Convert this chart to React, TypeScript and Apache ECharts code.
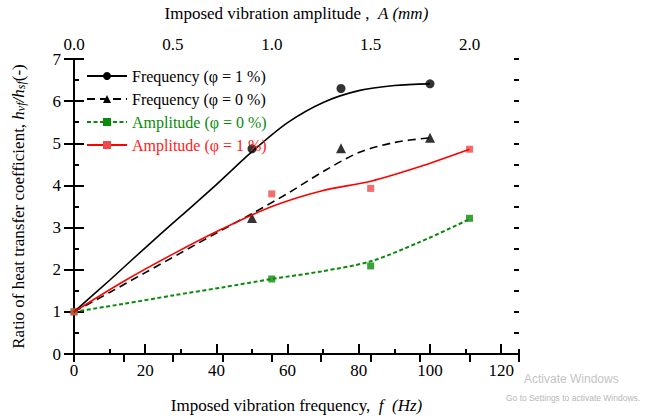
import React, { useEffect, useRef } from 'react';
import * as echarts from 'echarts';

const FONT = 'Liberation Serif';

// Fitted curves
const freqFitX = [0, 10, 20, 30, 40, 50, 60, 70, 80, 90, 100];
const freq1Fit = [1.0, 1.75, 2.52, 3.27, 4.02, 4.8, 5.49, 5.97, 6.25, 6.37, 6.41];
const freq0Fit = [1.0, 1.46, 1.93, 2.4, 2.87, 3.33, 3.81, 4.33, 4.78, 5.02, 5.13];
const ampFitX = [0, 0.25, 0.5, 0.75, 1.0, 1.25, 1.5, 1.75, 2.0];
const amp0Fit = [1.0, 1.19, 1.39, 1.58, 1.78, 1.96, 2.2, 2.66, 3.2];
const amp1Fit = [1.0, 1.72, 2.37, 2.97, 3.5, 3.87, 4.1, 4.45, 4.86];

// Measured points
const freqPtsX = [50, 75, 100];
const freq1Pts = [4.87, 6.3, 6.41];
const freq0Pts = [3.23, 4.88, 5.13];
const ampPtsX = [0, 1.0, 1.5, 2.0];
const amp0Pts = [1.0, 1.78, 2.09, 3.22];
const amp1Pts = [1.0, 3.8, 3.93, 4.86];

const legendNames = ['Frequency (φ = 1 %)', 'Frequency (φ = 0 %)', 'Amplitude (φ = 0 %)', 'Amplitude (φ = 1 %)'];
const legendColors = ['#000000', '#000000', '#0a8a0a', '#ff2020'];

const zip = (xs: number[], ys: number[]) => xs.map((x, i) => [x, ys[i]]);

const lineAxis = { show: true, lineStyle: { color: '#000', width: 2 } };
const tick = (len: number) => ({ show: true, inside: true, length: len, lineStyle: { color: '#000', width: 2 } });
const labelStyle = { color: '#000', fontFamily: FONT, fontSize: 17 };

export default function App() {
  const ref = useRef<HTMLDivElement>(null);
  useEffect(() => {
    if (!ref.current) return;
    const chart = echarts.init(ref.current, undefined, { renderer: 'svg' });
    const option: any = {
      animation: false,
      backgroundColor: '#fff',
      textStyle: { fontFamily: FONT },
      grid: { left: 74, right: 126, top: 56, bottom: 52, containLabel: false },
      legend: {
        orient: 'vertical',
        left: 81,
        top: 63,
        itemWidth: 40,
        itemHeight: 10,
        itemGap: 7,
        textStyle: { fontFamily: FONT, fontSize: 16, lineHeight: 16 },
        data: legendNames.map((n, i) => ({ name: n, textStyle: { color: legendColors[i], fontFamily: FONT, fontSize: 16 } })),
      },
      xAxis: [
        {
          type: 'value', position: 'bottom', min: 0, max: 125, interval: 20,
          axisLine: lineAxis, axisTick: tick(10), splitLine: { show: false },
          axisLabel: { ...labelStyle, margin: 8, showMaxLabel: false, formatter: (v: number) => (v > 120 ? '' : String(v)) },
          name: 'Imposed vibration frequency,  {i|f  (Hz)}', nameLocation: 'middle', nameGap: 43,
          nameTextStyle: { ...labelStyle, rich: { i: { fontFamily: FONT, fontSize: 17, fontStyle: 'italic', color: '#000' } } },
        },
        {
          type: 'value', position: 'bottom', min: 0, max: 125, interval: 10,
          axisLine: { show: false }, axisTick: tick(5), axisLabel: { show: false }, splitLine: { show: false },
        },
        {
          type: 'value', position: 'top', min: 0, max: 2.25, interval: 0.25,
          axisLine: lineAxis, axisTick: tick(8), splitLine: { show: false },
          axisLabel: {
            ...labelStyle, margin: 6,
            formatter: (v: number) => (Math.abs(v * 2 - Math.round(v * 2)) < 1e-6 && v <= 2.0001 ? v.toFixed(1) : ''),
          },
          name: 'Imposed vibration amplitude ,  {i|A (mm)}', nameLocation: 'middle', nameGap: 37,
          nameTextStyle: { ...labelStyle, rich: { i: { fontFamily: FONT, fontSize: 17, fontStyle: 'italic', color: '#000' } } },
        },
      ],
      yAxis: [
        {
          type: 'value', position: 'left', min: 0, max: 7, interval: 1,
          axisLine: lineAxis, axisTick: tick(10), splitLine: { show: false },
          axisLabel: { ...labelStyle, margin: 13 },
          name: 'Ratio of heat transfer coefficient, {i|h}{s|vf}{i|/h}{s|sf}(-)', nameLocation: 'middle', nameGap: 47,
          nameTextStyle: {
            ...labelStyle,
            rich: {
              i: { fontFamily: FONT, fontSize: 17, fontStyle: 'italic', color: '#000' },
              s: { fontFamily: FONT, fontSize: 12, fontStyle: 'italic', color: '#000', verticalAlign: 'bottom', padding: [6, 0, 0, 0] },
            },
          },
        },
        {
          type: 'value', position: 'left', min: 0, max: 7, interval: 0.5,
          axisLine: { show: false }, axisTick: tick(5), axisLabel: { show: false }, splitLine: { show: false },
        },
        {
          type: 'value', position: 'right', min: 0, max: 7, interval: 1,
          axisLine: lineAxis, axisTick: tick(10), axisLabel: { show: false }, splitLine: { show: false },
        },
        {
          type: 'value', position: 'right', min: 0, max: 7, interval: 0.5,
          axisLine: { show: false }, axisTick: tick(5), axisLabel: { show: false }, splitLine: { show: false },
        },
      ],
      series: [
        {
          name: legendNames[0], type: 'line', xAxisIndex: 0, yAxisIndex: 0, smooth: 0.3,
          symbol: 'circle', showSymbol: false, data: zip(freqFitX, freq1Fit),
          lineStyle: { color: '#000', width: 1.6 }, itemStyle: { color: '#000' },
        },
        {
          name: legendNames[1], type: 'line', xAxisIndex: 0, yAxisIndex: 0, smooth: 0.3,
          symbol: 'triangle', showSymbol: false, data: zip(freqFitX, freq0Fit),
          lineStyle: { color: '#000', width: 1.6, type: [8, 5] }, itemStyle: { color: '#000' },
        },
        {
          name: legendNames[2], type: 'line', xAxisIndex: 2, yAxisIndex: 0, smooth: 0.3,
          symbol: 'rect', showSymbol: false, data: zip(ampFitX, amp0Fit),
          lineStyle: { color: '#0a8a0a', width: 2, type: [4, 2.5] }, itemStyle: { color: '#0a8a0a' },
        },
        {
          name: legendNames[3], type: 'line', xAxisIndex: 2, yAxisIndex: 0, smooth: 0.3,
          symbol: 'rect', showSymbol: false, data: zip(ampFitX, amp1Fit),
          lineStyle: { color: '#ff0000', width: 1.6 }, itemStyle: { color: '#f04848' },
        },
        {
          name: 'pts f1', type: 'scatter', xAxisIndex: 0, yAxisIndex: 0, symbol: 'circle', symbolSize: 9,
          data: zip(freqPtsX, freq1Pts), itemStyle: { color: '#000' },
        },
        {
          name: 'pts f0', type: 'scatter', xAxisIndex: 0, yAxisIndex: 0, symbol: 'triangle', symbolSize: 10,
          data: zip(freqPtsX, freq0Pts), itemStyle: { color: '#000' },
        },
        {
          name: 'pts a0', type: 'scatter', xAxisIndex: 2, yAxisIndex: 0, symbol: 'rect', symbolSize: 7,
          data: zip(ampPtsX, amp0Pts), itemStyle: { color: '#0a8a0a' },
        },
        {
          name: 'pts a1', type: 'scatter', xAxisIndex: 2, yAxisIndex: 0, symbol: 'rect', symbolSize: 7,
          data: zip(ampPtsX, amp1Pts), itemStyle: { color: '#f04848' },
        },
      ],
      graphic: [
        { type: 'text', left: 524, top: 373, style: { text: 'Activate Windows', fill: '#c4c4c4', font: '12px sans-serif' } },
        { type: 'text', left: 506, top: 393, style: { text: 'Go to Settings to activate Windows.', fill: '#b8b8b8', font: '8.5px sans-serif' } },
      ],
    };
    chart.setOption(option);
    return () => chart.dispose();
  }, []);
  return <div ref={ref} style={{ position: 'fixed', left: 0, top: 0, width: 645, height: 419 }} />;
}
